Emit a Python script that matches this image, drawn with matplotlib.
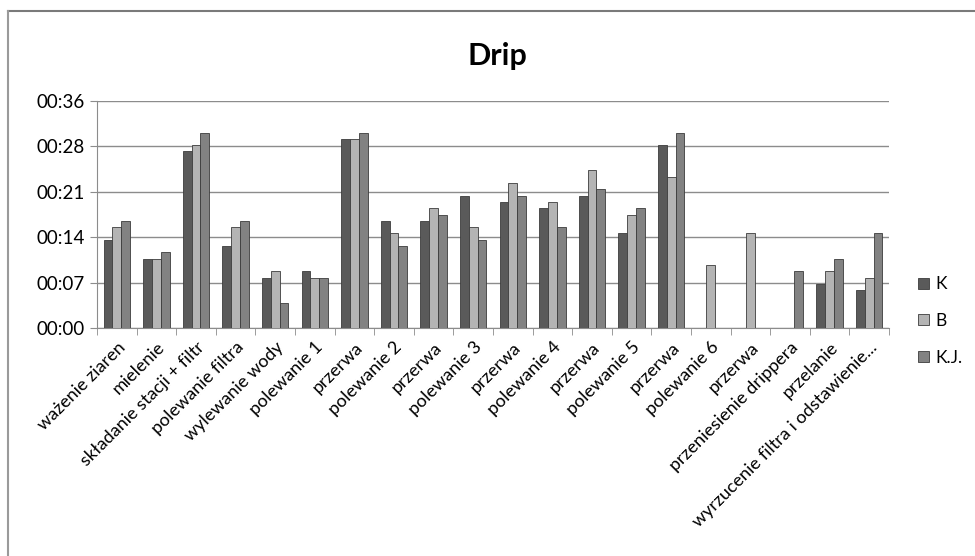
import matplotlib
matplotlib.use('Agg')
import matplotlib.pyplot as plt
from matplotlib.lines import Line2D
from matplotlib.ticker import FixedLocator, FuncFormatter
import numpy as np

plt.rcParams['font.family'] = ['Lato', 'DejaVu Sans']

steps = ['ważenie ziaren', 'mielenie', 'składanie stacji + filtr', 'polewanie filtra',
         'wylewanie wody', 'polewanie 1', 'przerwa', 'polewanie 2', 'przerwa',
         'polewanie 3', 'przerwa', 'polewanie 4', 'przerwa', 'polewanie 5', 'przerwa',
         'polewanie 6', 'przerwa', 'przeniesienie drippera', 'przelanie',
         'wyrzucenie filtra i odstawienie...']

# durations in seconds
k_sec = [14, 11, 28, 13, 8, 9, 30, 17, 17, 21, 20, 19, 21, 15, 29, 0, 0, 0, 7, 6]
b_sec = [16, 11, 29, 16, 9, 8, 30, 15, 19, 16, 23, 20, 25, 18, 24, 10, 15, 0, 9, 8]
kj_sec = [17, 12, 31, 17, 4, 8, 31, 13, 18, 14, 21, 16, 22, 19, 31, 0, 0, 9, 11, 15]

series = [('K', k_sec, '#5a5a5a'), ('B', b_sec, '#b4b4b4'), ('K.J.', kj_sec, '#828282')]

fig = plt.figure(figsize=(9.75, 5.56), dpi=100)
ax = fig.add_axes([97 / 975, 1 - 328 / 556, (889 - 97) / 975, (328 - 101) / 556])

x = np.arange(len(steps))
w = 1 / 4.5
for i, (name, vals, col) in enumerate(series):
    ax.bar(x + (i - 1) * w, vals, w, color=col, edgecolor='#3c3c3c', linewidth=0.6,
           label=name, zorder=3)

ax.set_xlim(-0.5, len(steps) - 0.5)
ax.set_ylim(0, 36)
yt = [0, 7.2, 14.4, 21.6, 28.8, 36]
ax.yaxis.set_major_locator(FixedLocator(yt))
ax.yaxis.set_major_formatter(FuncFormatter(lambda v, p: '00:%02d' % int(v + 1e-6)))
ax.grid(axis='y', color='#8c8c8c', linewidth=1.0, zorder=0)

ax.set_xticks(x)
ax.set_xticklabels(steps, rotation=45, ha='right', rotation_mode='anchor', fontsize=13)
ax.tick_params(axis='x', length=0, pad=8)
ax.set_xticks(np.arange(-0.5, len(steps)), minor=True)
ax.tick_params(axis='x', which='minor', length=5, color='#8c8c8c')
ax.tick_params(axis='y', length=5, color='#8c8c8c', labelsize=13.5, pad=4)

for side in ['top', 'right']:
    ax.spines[side].set_visible(False)
for side in ['left', 'bottom']:
    ax.spines[side].set_color('#8c8c8c')

fig.text(497 / 975, 1 - 56 / 556, 'Drip', ha='center', va='center',
         fontsize=22, fontweight='bold')

ax.legend(loc='center left', bbox_to_anchor=(908 / 975, 1 - 321 / 556),
          bbox_transform=fig.transFigure, frameon=False, fontsize=12.5,
          handlelength=0.6, handleheight=0.6, handletextpad=0.35, labelspacing=1.2,
          borderaxespad=0.2)

# chart frame
fig.add_artist(Line2D([7.5 / 975, 1], [1 - 10.5 / 556] * 2, color='#7a7a7a', lw=1.5))
fig.add_artist(Line2D([7.5 / 975] * 2, [0, 1 - 10.5 / 556], color='#9a9a9a', lw=1.5))

fig.savefig('out.png', dpi=100)
